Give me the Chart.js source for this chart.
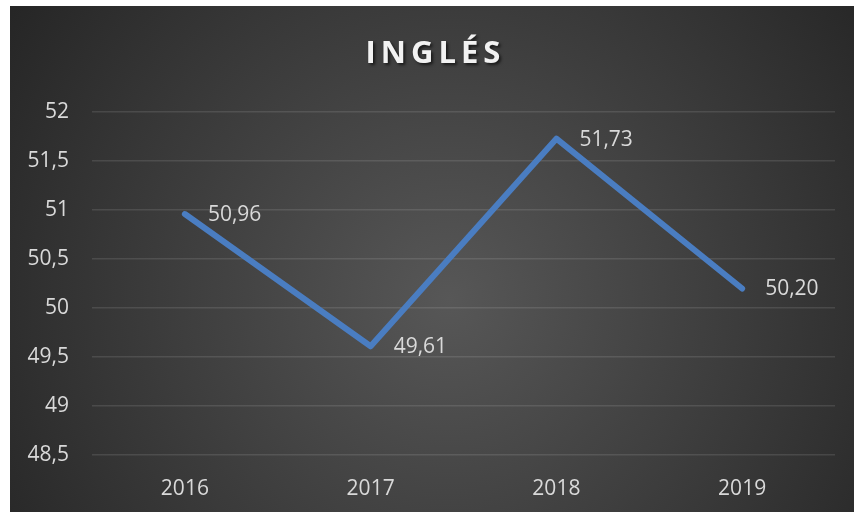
<!DOCTYPE html>
<html>
<head>
<meta charset="utf-8">
<script src="https://cdn.jsdelivr.net/npm/chart.js@4.4.1/dist/chart.umd.min.js"></script>
<style>
  html, body { margin: 0; padding: 0; background: #fff; }
  #wrap { position: absolute; left: 10px; top: 6px; width: 844px; height: 506px; }
</style>
</head>
<body>
<div id="wrap"><canvas id="grafica"></canvas></div>
<script>
// Datos del gráfico
const years = ["2016", "2017", "2018", "2019"];
const scores = [50.96, 49.61, 51.73, 50.20];
const yTicks = [48.5, 49, 49.5, 50, 50.5, 51, 51.5, 52];

const TEXT_COLOR = "#d9d9d9";
const LINE_COLOR = "#4a7dc1";
const FONT = "'Open Sans', 'Noto Sans', sans-serif";

// número con coma decimal
const fmt = (v, dec) => (dec == null ? String(v) : v.toFixed(dec)).replace(".", ",");

// Fondo oscuro con degradado radial
const bgPlugin = {
  id: "bg",
  beforeDraw(chart) {
    const { ctx, width, height } = chart;
    const g = ctx.createRadialGradient(width * 0.52, height * 0.58, 0, width * 0.52, height * 0.58, width * 0.62);
    g.addColorStop(0, "#575757");
    g.addColorStop(1, "#262626");
    ctx.save();
    ctx.fillStyle = g;
    ctx.fillRect(0, 0, width, height);
    ctx.restore();

    // título con espaciado de letras y sombra
    const t = chart.titleBlock;
    if (t && !t._patched) {
      const orig = t.draw.bind(t);
      t.draw = function () {
        ctx.save();
        ctx.translate(13, 0);
        ctx.letterSpacing = "5px";
        ctx.shadowColor = "rgba(0,0,0,0.6)";
        ctx.shadowOffsetX = 2;
        ctx.shadowOffsetY = 2;
        ctx.shadowBlur = 3;
        orig();
        ctx.restore();
      };
      t._patched = true;
    }
  },
};

// Etiquetas de valor a la derecha de cada punto
const labelsPlugin = {
  id: "valueLabels",
  afterDatasetsDraw(chart) {
    const { ctx } = chart;
    const meta = chart.getDatasetMeta(0);
    ctx.save();
    ctx.font = `21px ${FONT}`;
    ctx.fillStyle = TEXT_COLOR;
    ctx.textAlign = "left";
    ctx.textBaseline = "middle";
    meta.data.forEach((pt, i) => {
      ctx.fillText(fmt(scores[i], 2), pt.x + 23, pt.y + 1);
    });
    ctx.restore();
  },
};

new Chart(document.getElementById("grafica"), {
  type: "line",
  data: {
    labels: years,
    datasets: [
      {
        label: "Inglés",
        data: scores,
        borderColor: LINE_COLOR,
        borderWidth: 6,
        borderCapStyle: "round",
        borderJoinStyle: "round",
        pointRadius: 0,
        pointHoverRadius: 0,
        tension: 0,
      },
    ],
  },
  options: {
    responsive: true,
    maintainAspectRatio: false,
    animation: false,
    layout: { autoPadding: false, padding: { left: 0, right: 19, bottom: 0 } },
    plugins: {
      legend: { display: false },
      tooltip: { enabled: false },
      title: {
        display: true,
        text: "INGLÉS",
        color: "#f2f2f2",
        font: { family: FONT, size: 31, weight: "bold" },
        padding: { top: 30, bottom: 39 },
      },
    },
    scales: {
      x: {
        offset: true,
        grid: { display: false },
        border: { display: false },
        ticks: { color: TEXT_COLOR, font: { family: FONT, size: 21 }, padding: 13 },
        afterFit: (axis) => { axis.height = 57; },
      },
      y: {
        min: yTicks[0],
        max: yTicks[yTicks.length - 1],
        afterBuildTicks: (axis) => { axis.ticks = yTicks.map((v) => ({ value: v })); },
        grid: { color: "rgba(255,255,255,0.11)", lineWidth: 1.5, drawTicks: false },
        border: { display: false },
        ticks: {
          color: TEXT_COLOR,
          font: { family: FONT, size: 21 },
          padding: 23,
          callback: (v) => fmt(v),
        },
        afterFit: (axis) => { axis.width = 82; },
      },
    },
  },
  plugins: [bgPlugin, labelsPlugin],
});
</script>
</body>
</html>
